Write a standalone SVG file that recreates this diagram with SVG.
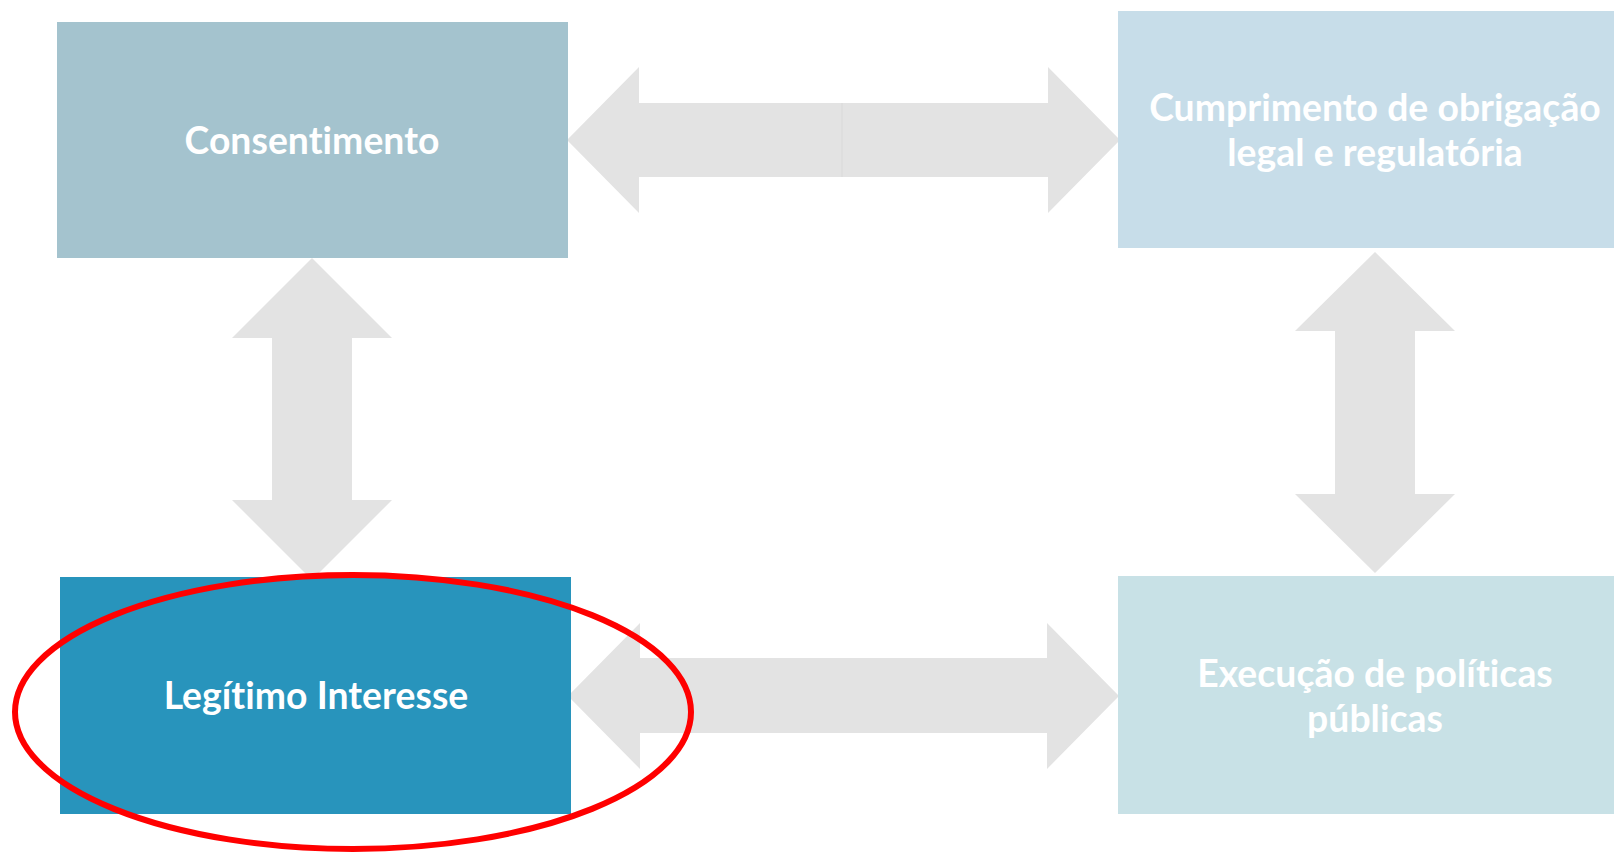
<svg xmlns="http://www.w3.org/2000/svg" width="1614" height="853" viewBox="0 0 1614 853">
  <style>
    .arrow { fill: #e3e3e3; }
    .bg { fill: #ffffff; }
    .label { font-family: Lato, "Liberation Sans", sans-serif; font-weight: bold; font-size: 37.3px; fill: #ffffff; text-anchor: middle; font-variant-ligatures: none; font-feature-settings: "liga" 0, "clig" 0, "dlig" 0, "calt" 0; letter-spacing: 0.05px; }
  </style>
  <rect x="0" y="0" width="1614" height="853" fill="#ffffff"/>
  <g id="connectors">
    <!-- top horizontal double arrow -->
    <rect class="bg" x="566" y="66" width="555" height="148"/>
    <polygon class="arrow" points="567,140 639,67 639,103 1048,103 1048,67 1120,140 1048,213 1048,177 639,177 639,213"/>
    <line x1="842" y1="103" x2="842" y2="177" stroke="#d9d9d9" stroke-width="1"/>
    <!-- bottom horizontal double arrow -->
    <rect class="bg" x="567" y="621" width="553" height="149"/>
    <polygon class="arrow" points="568,696 640,623 640,658 1047,658 1047,623 1119,696 1047,769 1047,733 640,733 640,769"/>
    <!-- left vertical double arrow -->
    <rect class="bg" x="231" y="257" width="161" height="322"/>
    <polygon class="arrow" points="312,258 392,338 352,338 352,500 392,500 312,580 232,500 272,500 272,338 232,338"/>
    <!-- right vertical double arrow -->
    <rect class="bg" x="1294" y="251" width="161" height="323"/>
    <polygon class="arrow" points="1375,252 1455,331 1415,331 1415,494 1455,494 1375,573 1295,494 1335,494 1335,331 1295,331"/>
  </g>
  <g id="node-consentimento">
    <rect x="57" y="22" width="511" height="236" fill="#a4c3ce"/>
    <text class="label" x="312" y="154">Consentimento</text>
  </g>
  <g id="node-cumprimento">
    <rect x="1118" y="11" width="496" height="237" fill="#c7dde9"/>
    <text class="label" x="1375" y="121">Cumprimento de obrigação</text>
    <text class="label" x="1375" y="166">legal e regulatória</text>
  </g>
  <g id="node-legitimo">
    <rect x="60" y="577" width="511" height="237" fill="#2894bc"/>
    <text class="label" x="316" y="709">Legítimo Interesse</text>
  </g>
  <g id="node-execucao">
    <rect x="1118" y="576" width="496" height="238" fill="#c8e1e6"/>
    <text class="label" x="1375" y="687">Execução de políticas</text>
    <text class="label" x="1375" y="732">públicas</text>
  </g>
  <g id="highlight">
    <ellipse cx="353" cy="712" rx="338" ry="137" fill="none" stroke="#ff0000" stroke-width="6"/>
  </g>
</svg>
